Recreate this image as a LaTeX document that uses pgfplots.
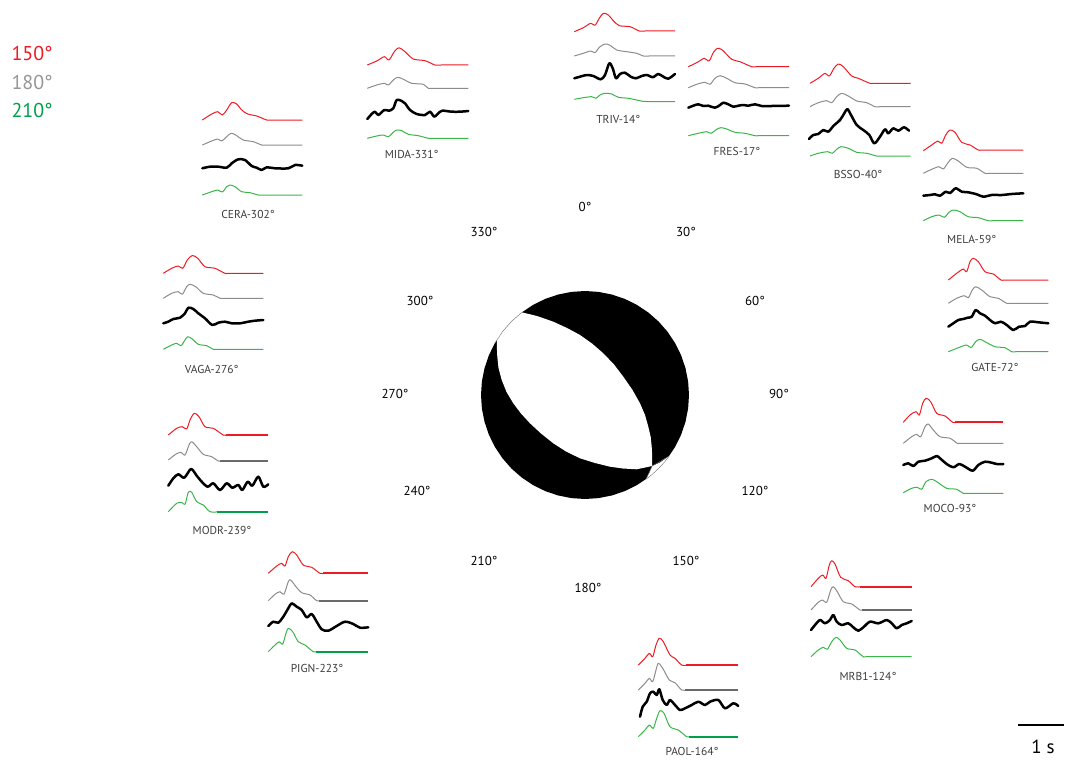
\documentclass[border=0pt]{standalone}
\usepackage{fontspec}
\setmainfont{PT Sans}
\usepackage{pgfplots}
\pgfplotsset{compat=1.18}

\definecolor{sred}{RGB}{237,28,36}
\definecolor{sgray}{RGB}{140,140,140}
\definecolor{sgrayd}{RGB}{105,106,109}
\definecolor{sgreen}{RGB}{57,181,74}
\definecolor{sgreend}{RGB}{0,160,75}
\definecolor{labtxt}{RGB}{60,60,60}

\pgfplotsset{
  syn/.style={line width=1.0pt, smooth, tension=0.5, no markers, line join=round},
  obs/.style={black, line width=2.5pt, smooth, tension=0.5, no markers, line join=round, line cap=round},
  flat/.style={line width=1.9pt, no markers},
}
\tikzset{
  stl/.style={font=\fontsize{11.5}{13}\selectfont, text=labtxt},
  azl/.style={font=\fontsize{13}{15}\selectfont, text=black},
}

\begin{document}
\begin{tikzpicture}
\begin{axis}[name=ax, scale only axis, width=1065pt, height=760pt,
  xmin=0, xmax=1065, ymin=0, ymax=760, y dir=reverse,
  hide axis, clip=false]

% ---------------- focal mechanism ----------------
\addplot[fill=black, draw=none] coordinates {
(689,395) (688.11,408.58) (685.46,421.92) (681.08,434.80) (675.07,447) (667.51,458.31)
(658.54,468.54) (648.31,477.51) (637,485.07) (624.80,491.08) (611.92,495.46) (598.58,498.11)
(585,499) (571.42,498.11) (558.08,495.46) (545.20,491.08) (533,485.07) (521.69,477.51)
(511.46,468.54) (502.49,458.31) (494.93,447) (488.92,434.80) (484.54,421.92) (481.89,408.58)
(481,395) (481.89,381.42) (484.54,368.08) (488.92,355.20) (494.93,343) (502.49,331.69)
(511.46,321.46) (521.69,312.49) (533,304.93) (545.20,298.92) (558.08,294.54) (571.42,291.89)
(585,291) (598.58,291.89) (611.92,294.54) (624.80,298.92) (637,304.93) (648.31,312.49)
(658.54,321.46) (667.51,331.69) (675.07,343) (681.08,355.20) (685.46,368.08) (688.11,381.42) (689,395)};
% dilatational lens between the two nodal planes
\addplot[fill=white, draw=none] coordinates {
(521.7,312.3) (537,316) (553.3,321.7) (567,328) (580,335) (592,343.5) (603.3,353.3)
(614,364.5) (623.3,376.7) (632.5,390) (640,403.3) (645,415) (648.3,426.7) (650.7,437)
(651.7,446.7) (652.2,456) (652.2,466)
(636.7,469.3) (623,468.5) (610,466.7) (595,463) (580,458.3) (566,451.5) (553.3,443.3)
(541,433.5) (530,423.3) (521,413.5) (513.3,403.3) (506.5,392) (501.7,380) (498.5,368)
(497.3,356.7) (496.8,346.5) (496.7,336.7) (502.49,331.69) (511.46,321.46) (521.7,312.3)};
\addplot[fill=white, draw=none] coordinates {
(652.2,466) (649.5,472.5) (646.1,479.1) (651.85,474.67) (658.54,468.54) (664.67,461.85)
(669.1,456.1) (660,462.5) (652.2,466)};
% nodal lines crossing the white sectors
\addplot[gray, line width=0.4pt] coordinates {(652.2,466) (646.1,479.1)};
\addplot[gray, line width=0.4pt] coordinates {(652.2,466) (669.1,456.1)};
\addplot[gray, line width=0.4pt] coordinates {
(494.93,343) (502.49,331.69) (511.46,321.46) (521.69,312.49)};
\addplot[gray, line width=0.4pt] coordinates {
(646.1,479.1) (651.85,474.67) (658.54,468.54) (664.67,461.85) (669.1,456.1)};

% ---------------- azimuth labels ----------------
\node[azl] at (axis cs:585,207) {0°};
\node[azl] at (axis cs:686,232) {30°};
\node[azl] at (axis cs:755,301) {60°};
\node[azl] at (axis cs:779,394) {90°};
\node[azl] at (axis cs:755,491) {120°};
\node[azl] at (axis cs:686,561) {150°};
\node[azl] at (axis cs:588,588) {180°};
\node[azl] at (axis cs:484,561) {210°};
\node[azl] at (axis cs:417,491) {240°};
\node[azl] at (axis cs:395,394) {270°};
\node[azl] at (axis cs:420,301) {300°};
\node[azl] at (axis cs:484,232) {330°};

% ---------------- CERA ----------------
\addplot[syn, sred] coordinates {(202.3,120)(211.7,114)(217.7,111.7)(222.3,115)(226.7,110)(231.7,102.7)(236.7,104)(241.7,110)(247.7,114)(256.7,116)(266.7,120)(272,120)(302.3,120)};
\addplot[syn, sgray] coordinates {(202.3,145)(211.7,141)(217.7,139)(221.7,141)(226.7,136.7)(231,133.3)(235.7,135)(243.3,140)(253.3,141.7)(261.7,145)(267,145)(302.3,145)};
\addplot[obs] coordinates {(202.3,168.3)(210,166.7)(218.3,166.7)(226.7,167.7)(231.7,163.3)(238.3,159.3)(245,160)(251.7,166)(256.7,167.7)(261.7,170)(266.7,167.3)(275,168.3)(288.3,168.3)(295,165)(302.3,165.7)};
\addplot[syn, sgreen] coordinates {(202.3,195)(211.7,191.7)(217.7,190)(222.3,192)(226.7,186.7)(230,185)(235,186.7)(241.7,191.7)(250,192.7)(258.3,195)(264,195)(302.3,195)};
\node[stl] at (axis cs:248,214) {CERA-302°};

% ---------------- MIDA ----------------
\addplot[syn, sred] coordinates {(367.3,65)(376.7,61)(384.3,56.7)(389,60)(394.3,51.7)(399,47.7)(405,51.7)(413.3,59)(425,60.7)(435,65)(441,65)(468.3,65)};
\addplot[syn, sgray] coordinates {(367.3,88.3)(376.7,85)(384.3,83.3)(388.3,85)(393.3,80)(397.7,77.3)(403.3,79.3)(411.7,83.3)(423.3,84.3)(428.3,88.3)(434,88.3)(468.3,88.3)};
\addplot[obs] coordinates {(367.3,119)(371.7,114)(375,111.7)(378.3,115)(384.3,110)(389,110.7)(393.3,108.3)(396.7,100)(401.7,101)(405,103.3)(410,110)(416.7,114)(425,115)(430,111.7)(434.3,116.7)(438.3,113.3)(442.3,110.7)(451.7,111.7)(460,111.7)(468.3,111)};
\addplot[syn, sgreen] coordinates {(367.3,138.3)(376.7,136)(383.3,135)(388.3,136.7)(393.3,132.3)(396.7,130)(401.7,130.7)(408.3,134.3)(418.3,135.7)(428.3,138.3)(434,138.3)(468.3,138.3)};
\node[stl] at (axis cs:411.7,154) {MIDA-331°};

% ---------------- TRIV ----------------
\addplot[syn, sred] coordinates {(574.3,31.7)(583.3,27.7)(590.7,23.3)(595,25.3)(599.3,18.3)(603.3,13.3)(608.3,15)(613.3,20.7)(619.3,25.7)(630,26.7)(639.3,31)(645,31)(675,31)};
\addplot[syn, sgray] coordinates {(574.3,56)(583.3,53.3)(590.7,51)(595,52.7)(599.3,47.3)(605,44)(610,45.3)(616.7,50)(626.7,51.7)(636.7,53.3)(643.3,56)(649,56)(675,56)};
\addplot[obs] coordinates {(574.3,78.3)(580,76.7)(586.7,75)(593.3,76)(600.7,79.3)(605,75)(609.3,63.3)(612.7,68.3)(616,78.3)(620,74)(625,72.7)(630.7,76.7)(636,78.3)(641.7,76)(647.3,75)(652.7,77.3)(658.3,74)(663.3,76.7)(668.3,78.7)(675,74)};
\addplot[syn, sgreen] coordinates {(574.3,99.3)(583.3,97.7)(591.7,96.7)(596,98.3)(600,95)(605,93.3)(611.7,94)(618.3,97.3)(628.3,98.3)(640,100.7)(646,101.5)(675,101.7)};
\node[stl] at (axis cs:618.3,119) {TRIV-14°};

% ---------------- FRES ----------------
\addplot[syn, sred] coordinates {(688.3,66.7)(696.7,62.7)(704.3,58.3)(709,61)(713.3,52.7)(717.3,48.3)(722.3,50)(731.7,59.3)(740,61.7)(751.7,66.7)(757,66.7)(789,66.7)};
\addplot[syn, sgray] coordinates {(688.3,87.7)(696.7,84.3)(705,82.3)(710,84.3)(715,78.3)(720,75.7)(726.7,78.3)(735,82.7)(745,84)(755,87.7)(760,87.7)(789,87.7)};
\addplot[obs] coordinates {(688.3,107.7)(693.3,105.7)(698.3,104.3)(703.3,106)(708.3,105.7)(715,107.7)(720,105)(723.3,102.7)(728.3,104.3)(733.3,106.7)(738.3,105.7)(743.3,105)(748.3,105.7)(755,104.3)(761.7,106)(771.7,106)(789,105.7)};
\addplot[syn, sgreen] coordinates {(688.3,135.7)(698.3,133.3)(706.7,131.7)(711,133.3)(716.7,129.3)(721,127.7)(726.7,129)(735,132.3)(745,133.3)(755,135.7)(760,135.7)(789,135.7)};
\node[stl] at (axis cs:737,151) {FRES-17°};

% ---------------- BSSO ----------------
\addplot[syn, sred] coordinates {(810,83.3)(818.3,78.3)(825,73.3)(829.3,76)(834,68.3)(838.3,64)(843.3,66.7)(851.7,76)(858.3,78.3)(870,83.3)(876,83.3)(910.7,83.3)};
\addplot[syn, sgray] coordinates {(810,106.7)(818.3,102.7)(826.7,100.7)(831.7,102.7)(836.7,96.7)(841.7,93.3)(848.3,96)(856.7,101)(866.7,102.7)(875,106.7)(881,106.7)(910.7,106.7)};
\addplot[obs] coordinates {(809,139)(813.3,135)(818.3,134)(823.3,130)(828.3,131.7)(833.3,126)(840,120)(844.3,113.3)(847.3,109)(851,115)(856.7,125)(863.3,130)(869.3,135)(874.3,143.3)(880,136.7)(885,129.3)(888.3,133.3)(893.3,128.3)(898.3,130.7)(904,127.3)(909,130.7)};
\addplot[syn, sgreen] coordinates {(810,156)(818.3,153.3)(827.7,151.7)(832.3,153.3)(836.7,149.3)(841,146.7)(848.3,148.3)(856.7,152.3)(866.7,153.3)(876.7,156)(882,156)(910.7,156)};
\node[stl] at (axis cs:858,174) {BSSO-40°};

% ---------------- MELA ----------------
\addplot[syn, sred] coordinates {(923.3,150.7)(931.7,145)(937.7,141)(941.7,143.3)(945.7,135)(950,130)(955,132.3)(961.7,142.3)(970,145)(978.3,150)(984,150)(1023.3,150)};
\addplot[syn, sgray] coordinates {(923.3,173.3)(931.7,169.3)(939,166.7)(943.3,169)(948.3,162.3)(952.3,158.3)(958.3,161)(966.7,167.3)(976.7,168.3)(985,173.3)(990,173.3)(1023.3,173.3)};
\addplot[obs] coordinates {(923.3,195.7)(930,195)(935,194.3)(940,195.7)(945.7,191.7)(950,193)(955.7,188.3)(961.7,191.7)(968.3,192.3)(976.7,194.3)(983.3,196.7)(991.7,195)(1001.7,195)(1011.7,194)(1023.3,193.3)};
\addplot[syn, sgreen] coordinates {(923.3,220.7)(931.7,216.7)(939,215)(944.3,217.3)(949,212.3)(953.3,210)(960,211.7)(968.3,216.7)(978.3,217.7)(988.3,220.7)(994,220.7)(1023.3,220.7)};
\node[stl] at (axis cs:971.7,239) {MELA-59°};

% ---------------- GATE ----------------
\addplot[syn, sred] coordinates {(948.3,280)(956.7,273.3)(963.3,269)(966.7,271.7)(970,261.7)(973.3,258.3)(978.3,261.7)(985,271.7)(993.3,274)(1001,280)(1007,280)(1048.3,280)};
\addplot[syn, sgray] coordinates {(948.3,303.3)(956.7,298.3)(964.3,295.7)(968.3,297.7)(972.3,290)(975.7,286.7)(981.7,290)(990,296.7)(998.3,298.3)(1006.7,303.3)(1012,303.3)(1048.3,303.3)};
\addplot[obs] coordinates {(948.3,326.7)(953.3,323.3)(958.3,320)(963.3,319)(967.7,317.7)(971.7,316.7)(975.7,310)(980,313.3)(985,315.7)(990,320)(995,323.3)(1001,321.7)(1006.7,325)(1013.3,330)(1019,326.7)(1025,326)(1030,321.7)(1038.3,322.3)(1048.3,323.3)};
\addplot[syn, sgreen] coordinates {(948.3,351.7)(958.3,347.7)(966.7,345)(971,347.7)(975.7,341.7)(980,339.3)(985,341.7)(995,346.7)(1005,347.7)(1011.7,351.7)(1017,351.7)(1048.3,351.7)};
\node[stl] at (axis cs:995,367) {GATE-72°};

% ---------------- MOCO ----------------
\addplot[syn, sred] coordinates {(903.3,422.3)(910,415)(916,411.7)(919.3,415)(922.7,403.3)(926,398.3)(930.7,401.7)(936.7,413.3)(945,416)(952.7,422.3)(957,422.3)};
\addplot[flat, sred] coordinates {(955,422.3)(1003.3,422.3)};
\addplot[syn, sgray] coordinates {(903.3,443.3)(911.7,436.7)(916.7,434.3)(920.7,436.7)(925,426.7)(928.3,424)(933.3,430)(940,436.7)(950,438.3)(957.3,443.3)(962,443.3)(1003.3,443.3)};
\addplot[obs] coordinates {(903.3,465)(908.3,463.3)(913.3,466)(918.3,461.7)(925,460.7)(931.7,458.3)(936.7,456)(940,458.3)(946.7,464)(953.3,467.3)(959.3,464)(965,466.7)(972.7,470.7)(978.3,465)(985,461.7)(991.7,462.7)(996.7,464)(1003.3,464)};
\addplot[syn, sgreen] coordinates {(903.3,492.7)(911.7,488.3)(917.3,487.3)(921.7,489.3)(926,481.7)(931.7,479.3)(936.7,481.7)(946.7,488.3)(956.7,489.3)(963.3,493.3)(968,493.3)(1003.3,493.3)};
\node[stl] at (axis cs:950,508.3) {MOCO-93°};

% ---------------- MRB1 ----------------
\addplot[syn, sred] coordinates {(811,586.7)(818.3,578.3)(822.7,575)(826,578.3)(829.3,565)(831.7,560.7)(835,564)(840.7,577.3)(848.3,580.7)(855,586.7)(861,586.7)};
\addplot[flat, sred] coordinates {(860,586.7)(911.7,586.7)};
\addplot[syn, sgray] coordinates {(811,610)(818.3,602.3)(822.7,600)(826.7,602.3)(830.7,590)(833.3,586.7)(837.3,591.7)(843.3,601.7)(851.7,604)(860,610)(864,610)};
\addplot[flat, sgrayd] coordinates {(862,610)(911.7,610)};
\addplot[obs] coordinates {(811,630)(815,625)(820,620)(825,623.3)(830,620)(833.3,615)(836.7,621.7)(841.7,625)(848.3,623.3)(853.3,627.3)(858.3,630.7)(863.3,627.3)(870,621.7)(878.3,623.3)(886.7,620)(891.7,623.3)(896.7,628.3)(901.7,625)(906.7,623.3)(911.7,621)};
\addplot[syn, sgreen] coordinates {(811,656.7)(818.3,650)(823.3,647.3)(827.3,649.3)(831.7,641.7)(836,637.3)(840,640)(846.7,648.3)(855,650)(863.3,656.7)(868,656.7)(911.7,656.7)};
\node[stl] at (axis cs:868,676) {MRB1-124°};

% ---------------- PAOL ----------------
\addplot[syn, sred] coordinates {(638.3,665)(645,658.3)(649.3,653.3)(652.7,656.7)(656,645)(659.3,638.3)(663.3,641.7)(670,655)(675,658.3)(681.7,665)(688,665)};
\addplot[flat, sred] coordinates {(686,665)(738.3,665)};
\addplot[syn, sgray] coordinates {(638.3,690)(645,683.3)(649.3,678.3)(652.7,681.7)(656,670)(658.3,663.3)(662.7,668.3)(669.3,680)(675,682.7)(681.7,690)(687,690)};
\addplot[flat, sgrayd] coordinates {(685,690)(738.3,690)};
\addplot[obs] coordinates {(640,716.7)(642.7,706.7)(646.7,701.7)(650,693.3)(653.3,691.7)(656.7,695)(659.3,689.3)(662.7,700)(666.7,705)(670,700)(675,705)(680,710)(685,708.3)(691.7,705)(698.3,701.7)(705,705)(710,701.7)(718.3,700)(725,708.3)(733.3,703.3)(738.3,706)};
\addplot[syn, sgreen] coordinates {(638.3,736.7)(645,730)(649.3,725)(653.3,728.3)(656.7,718.3)(660,710.7)(664,713.3)(670,726.7)(678.3,730)(686.7,736.7)(691,736.7)};
\addplot[flat, sgreend] coordinates {(689,736.7)(738.3,736.7)};
\node[stl] at (axis cs:692,751.5) {PAOL-164°};

% ---------------- PIGN ----------------
\addplot[syn, sred] coordinates {(268.3,573.3)(276.7,566)(281.7,563.3)(285,566)(288.3,556.7)(292.3,551.7)(296.7,555)(303.3,565)(311.7,567.3)(320,573.3)(325,573.3)};
\addplot[flat, sred] coordinates {(323,573.3)(368.3,573.3)};
\addplot[syn, sgray] coordinates {(268.3,600.7)(275,594.3)(280,591.7)(284,594)(288.3,581.7)(290.7,580)(296,586.7)(301.7,592.7)(310,595)(316.7,600.7)(321,600.7)};
\addplot[flat, sgrayd] coordinates {(319,600.7)(368.3,600.7)};
\addplot[obs] coordinates {(268.3,626)(273.3,621.7)(278.3,622.7)(283.3,616.7)(288.3,608.3)(291.7,603.3)(296.7,606.7)(301.7,610)(306.7,617.3)(311.7,614)(316.7,621.7)(321.7,629.3)(328.3,630.7)(336.7,626)(345,621.7)(353.3,624)(360,627.7)(368.3,627.3)};
\addplot[syn, sgreen] coordinates {(268.3,651.7)(275,645)(279.3,641.7)(282.7,644)(286,633.3)(288.3,628.3)(292.7,631.7)(298.3,641.7)(305,645)(313.3,651.7)(318,651.7)};
\addplot[flat, sgreend] coordinates {(316,651.7)(368.3,651.7)};
\node[stl] at (axis cs:317,668) {PIGN-223°};

% ---------------- MODR ----------------
\addplot[syn, sred] coordinates {(168.3,435)(176.7,428.3)(182.3,426.7)(186.7,429)(190,420)(194.3,413.3)(199,416.7)(205,426.7)(213.3,428.3)(223.3,435)(228,435)};
\addplot[flat, sred] coordinates {(226,435)(268.3,435)};
\addplot[syn, sgray] coordinates {(168.3,460)(175.7,454.3)(181,452.3)(185,455)(189,445)(191.7,441.7)(196.7,446.7)(203.3,454.3)(211.7,456.7)(218.3,461)(222,461)};
\addplot[flat, sgrayd] coordinates {(220,461)(268.3,461)};
\addplot[obs] coordinates {(168.3,485.7)(173.3,478.3)(178.3,474.3)(184.3,477.7)(191,469)(196.7,475.7)(201.7,481.7)(207.7,486.7)(213.3,483.3)(220,490)(226.7,483.3)(232.3,487.7)(238.3,485)(242.3,490)(247.7,481.7)(252.3,485.7)(258.3,476.7)(263.3,486.7)(268.3,484.3)};
\addplot[syn, sgreen] coordinates {(168.3,511.7)(176.7,503.3)(181.7,502.3)(185,504.3)(188.3,492.3)(191.7,492.3)(196.7,501.7)(203.3,505)(210,511.7)(219,511.7)};
\addplot[flat, sgreend] coordinates {(217,511.7)(268.3,511.7)};
\node[stl] at (axis cs:222,530) {MODR-239°};

% ---------------- VAGA ----------------
\addplot[syn, sred] coordinates {(163.3,273.3)(171.7,268.3)(178.3,266)(182.7,268.3)(187.3,260)(192.3,255.5)(197.7,258.3)(205,266.7)(215,268.3)(225,273.3)(230,273.3)(263.3,273.3)};
\addplot[syn, sgray] coordinates {(163.3,298.3)(171.7,293.3)(178.3,291.7)(182.3,294.3)(186.7,286.7)(190,284.3)(195.7,286.7)(203.3,293.3)(213.3,295)(220,298.3)(225,298.3)(263.3,298.3)};
\addplot[obs] coordinates {(163.3,323.3)(168.3,321.7)(173.3,319)(180,317.7)(185,313.3)(188.3,307.7)(193.3,309)(198.3,313.3)(205,318.3)(212.3,325)(218.3,322.7)(225,321.7)(231.7,323.3)(240,323.3)(248.3,321.7)(255,320.7)(263.3,320)};
\addplot[syn, sgreen] coordinates {(163.3,349.3)(171.7,345)(176.7,343.3)(181,345.7)(185,340)(187.7,336.7)(192.3,339)(198.3,344.3)(206.7,345.7)(213.3,349.3)(218,349.3)(263.3,349.3)};
\node[stl] at (axis cs:211.7,369) {VAGA-276°};

% ---------------- key and time scale ----------------
\node[anchor=west, font=\fontsize{20}{22}\selectfont, text=sred] at (axis cs:8,54) {150°};
\node[anchor=west, font=\fontsize{20}{22}\selectfont, text={rgb,255:red,150;green,150;blue,150}] at (axis cs:8,82) {180°};
\node[anchor=west, font=\fontsize{20}{22}\selectfont, text=sgreend] at (axis cs:8,110) {210°};

\addplot[black, line width=1.2pt] coordinates {(1018,725)(1064,725)};
\node[font=\fontsize{19}{21}\selectfont] at (axis cs:1043,747) {1 s};

\end{axis}
\pgfresetboundingbox
\path[use as bounding box] (ax.south west) rectangle (ax.north east);
\end{tikzpicture}
\end{document}
